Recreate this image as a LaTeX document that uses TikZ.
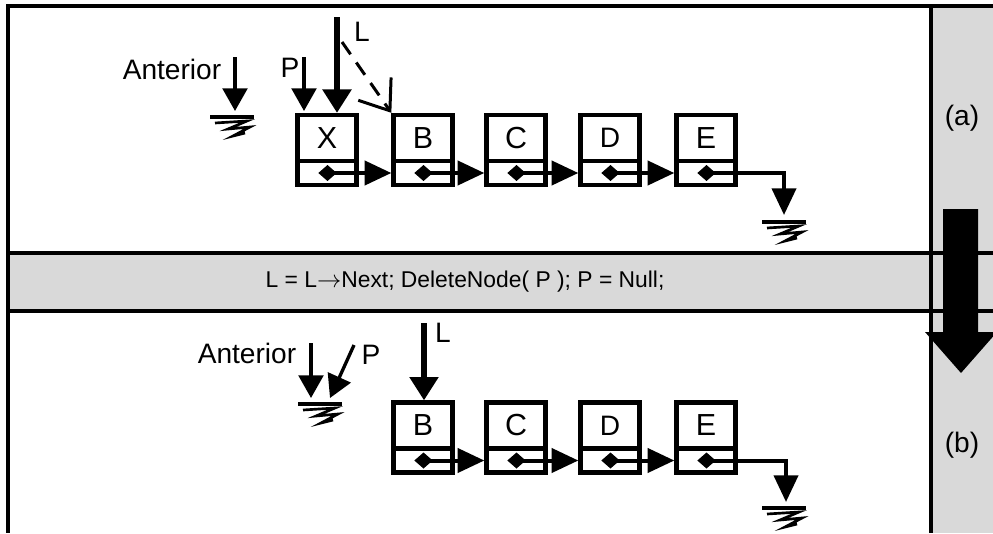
\documentclass[tikz,border=0pt]{standalone}
\usepackage{xcolor}
\usepackage{fontspec}
\setmainfont{Liberation Sans}
\usepackage{tikz}
\usetikzlibrary{arrows.meta}

\definecolor{bandgray}{RGB}{217,217,217}

\begin{document}
\begin{tikzpicture}[
    x=0.03cm, y=-0.03cm,
    every node/.style={inner sep=0pt, font=\fontsize{24}{28}\selectfont},
    databox/.style={draw, line width=0.13cm, minimum width=1.77cm, minimum height=1.38cm},
    ptrbox/.style={draw, line width=0.13cm, minimum width=1.77cm, minimum height=0.72cm},
    link/.style={line width=0.12cm, shorten <=-0.26cm,
        {Diamond[length=0.55cm, width=0.48cm]}-{Triangle[length=0.8cm, width=0.72cm]}},
    ptr/.style={line width=0.1cm, -{Triangle[length=0.68cm, width=0.74cm]}},
    lptr/.style={line width=0.16cm, -{Triangle[length=0.7cm, width=0.84cm]}},
    nullgnd/.pic={
        \draw[line width=0.1cm] (-22,0) -- (22,0);
        \draw[line width=0.08cm, line join=miter] (-17,6) -- (15,4) -- (-4,12) -- (18,10) -- (1,19) -- (13,16);
    }
]
    \useasboundingbox (0,0) rectangle (993,533);
    \fill[bandgray] (931,4) rectangle (993,533);
    \fill[bandgray] (8,253) rectangle (993,311);
    \draw[line width=0.13cm] (6,6) -- (993,6);
    \draw[line width=0.13cm] (8,4) -- (8,533);
    \draw[line width=0.13cm] (931,4) -- (931,533);
    \draw[line width=0.13cm] (8,253) -- (993,253);
    \draw[line width=0.13cm] (8,311) -- (993,311);

    \node (stmt) at (465,282) {\fontsize{19.5}{22}\selectfont L = L$\rightarrow$Next; DeleteNode( P ); P = Null;};
    \node (lbla) at (962,118) {(a)};
    \node (lblb) at (962,445) {(b)};

    \foreach \nm/\cx/\fs in {X/327/26, B/423/26, C/516/26, D/610/24, E/706/26} {
        \node[databox] (u\nm) at (\cx,138) {\fontsize{\fs}{\fs}\selectfont\nm};
        \node[ptrbox] (u\nm p) at (\cx,173) {};
    }
    \foreach \nm/\cx/\fs in {B/423/26, C/516/26, D/610/24, E/706/26} {
        \node[databox] (l\nm) at (\cx,425.5) {\fontsize{\fs}{\fs}\selectfont\nm};
        \node[ptrbox] (l\nm p) at (\cx,460.5) {};
    }

    \draw[link] (uXp.center) -- (uBp.west);
    \draw[link] (uBp.center) -- (uCp.west);
    \draw[link] (uCp.center) -- (uDp.west);
    \draw[link] (uDp.center) -- (uEp.west);
    \coordinate (uend) at (784,215);
    \draw[link] (uEp.center) -| (uend);
    \pic at (784,222) {nullgnd};

    \draw[link] (lBp.center) -- (lCp.west);
    \draw[link] (lCp.center) -- (lDp.west);
    \draw[link] (lDp.center) -- (lEp.west);
    \coordinate (lend) at (786,502);
    \draw[link] (lEp.center) -| (lend);
    \pic at (784,508) {nullgnd};

    \node (uant) at (172,69) {Anterior};
    \coordinate (uantp) at (235,57);
    \coordinate (uantt) at (235,111);
    \draw[ptr] (uantp) -- (uantt);
    \pic at (232,117) {nullgnd};

    \node (up) at (290,68) {P};
    \coordinate (upp) at (304,57);
    \coordinate (upt) at (304,111);
    \draw[ptr] (upp) -- (upt);

    \node (ul) at (362,32) {L};
    \coordinate (ulp) at (337,17);
    \draw[lptr] (ulp) -- (ulp |- uX.north);
    \coordinate (udsh) at (342,42);
    \draw[line width=0.09cm, dash pattern=on 0.45cm off 0.3cm,
        -{Straight Barb[length=0.8cm, width=1.2cm]}] (udsh) -- (uB.north west);

    \node (lant) at (247,353) {Anterior};
    \coordinate (lantp) at (311,343);
    \coordinate (lantt) at (311,398);
    \draw[ptr] (lantp) -- (lantt);
    \pic at (320,404) {nullgnd};

    \node (lp) at (371,355) {P};
    \coordinate (lpp) at (354,345);
    \coordinate (lpt) at (330,398);
    \draw[ptr] (lpp) -- (lpt);

    \node (ll) at (443,333) {L};
    \coordinate (llp) at (424,323);
    \draw[lptr] (llp) -- (llp |- lB.north);

    \fill (943,209) -- (978,209) -- (978,332) -- (997,332) -- (961,373) -- (925,332) -- (943,332) -- cycle;
\end{tikzpicture}
\end{document}
